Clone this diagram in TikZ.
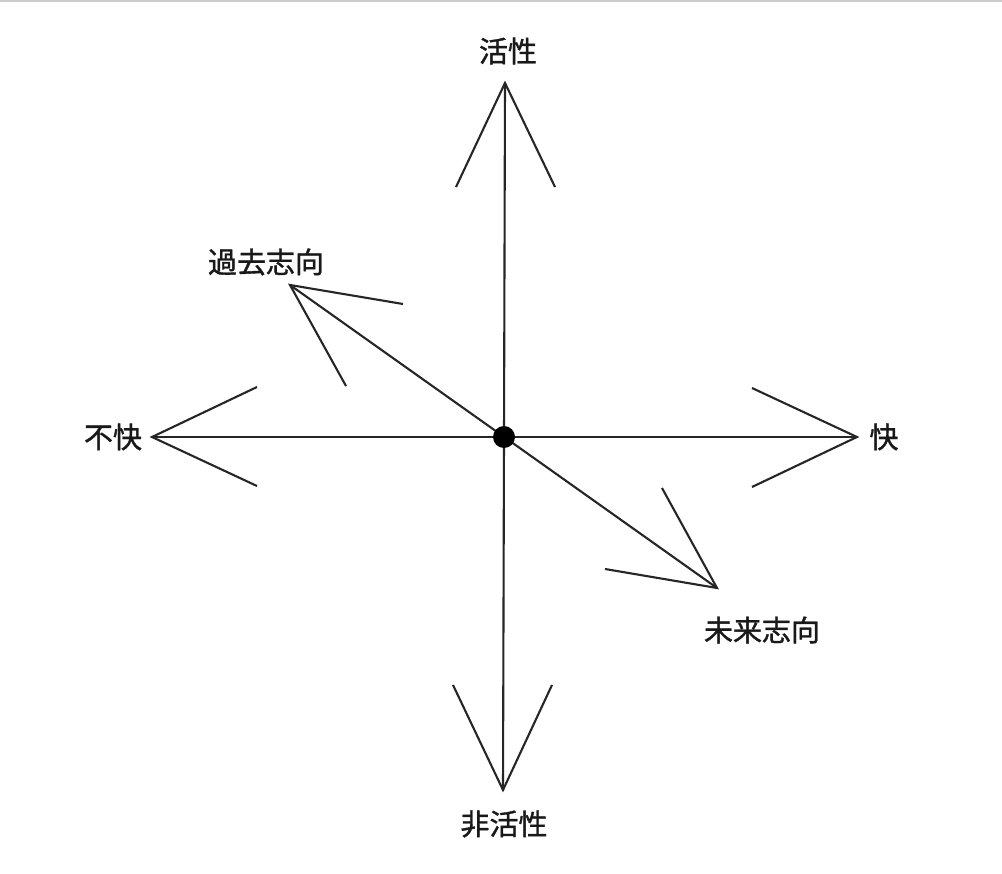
\documentclass[tikz,border=0pt]{standalone}
\usepackage{fontspec}
\newfontfamily\cjk[FakeBold=1.2]{Noto Sans CJK JP}
\begin{document}
\begin{tikzpicture}[x=1pt,y=-1pt,
  axis/.style={line width=2.1pt,black!85},
  lbl/.style={font=\cjk\fontsize{29}{32}\selectfont,inner sep=0pt,text=black!90}]
\useasboundingbox (0,0) rectangle (1002,874);
\fill[white] (0,0) rectangle (1002,874);
\draw[black!20,line width=2pt] (0,1) -- (1002,1);
% points
\coordinate (o) at (504,437);
\coordinate (up) at (505,83);
\coordinate (dn) at (503,790);
\coordinate (lt) at (152,437);
\coordinate (rt) at (857,437);
\coordinate (ul) at (290,285);
\coordinate (lr) at (717,588);
% arms
\coordinate (up1) at (456,187); \coordinate (up2) at (555,187);
\coordinate (dn1) at (453,685); \coordinate (dn2) at (552,685);
\coordinate (lt1) at (257,387); \coordinate (lt2) at (257,486);
\coordinate (rt1) at (752,388); \coordinate (rt2) at (752,487);
\coordinate (ul1) at (403,304); \coordinate (ul2) at (346,386);
\coordinate (lr1) at (662,488); \coordinate (lr2) at (605,569);
% axes
\draw[axis] (up) -- (dn);
\draw[axis] (lt) -- (rt);
\draw[axis] (ul) -- (lr);
% arrowheads
\draw[axis,line join=miter] (up1) -- (up) -- (up2);
\draw[axis,line join=miter] (dn1) -- (dn) -- (dn2);
\draw[axis,line join=miter] (lt1) -- (lt) -- (lt2);
\draw[axis,line join=miter] (rt1) -- (rt) -- (rt2);
\draw[axis,line join=miter] (ul1) -- (ul) -- (ul2);
\draw[axis,line join=miter] (lr1) -- (lr) -- (lr2);
% center dot
\fill[black] (o) circle (11);
% labels
\node[lbl] (lup) at (508,51) {活性};
\node[lbl] (ldn) at (504,824) {非活性};
\node[lbl] (llt) at (113,437) {不快};
\node[lbl] (lrt) at (884,437) {快};
\node[lbl] (lul) at (266,262) {過去志向};
\node[lbl] (llr) at (762,630) {未来志向};
\end{tikzpicture}
\end{document}
